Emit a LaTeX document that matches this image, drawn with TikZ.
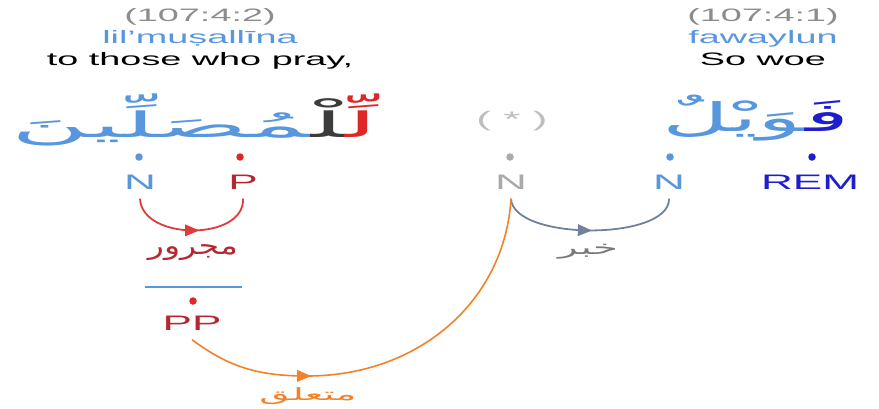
\documentclass[tikz,border=0pt]{standalone}
\usepackage{fontspec}
\usepackage{graphicx}
\setmainfont{Liberation Sans}
\newfontfamily\arabicfont[Script=Arabic]{DejaVu Sans}
\TeXXeTstate=1
\usetikzlibrary{arrows.meta,decorations.markings}
\definecolor{hdrgray}{RGB}{140,140,140}
\definecolor{lblue}{RGB}{88,150,222}
\definecolor{dblue}{RGB}{30,30,205}
\definecolor{dotred}{RGB}{222,40,40}
\definecolor{txtred}{RGB}{180,40,50}
\definecolor{arcred}{RGB}{222,60,60}
\definecolor{ngray}{RGB}{170,170,170}
\definecolor{stargray}{RGB}{190,190,190}
\definecolor{slate}{RGB}{110,130,158}
\definecolor{lblgray}{RGB}{120,120,120}
\definecolor{orangeC}{RGB}{242,130,40}
\definecolor{wordblack}{RGB}{60,60,60}
\begin{document}
\begin{tikzpicture}[x=1pt,y=-1pt,
  hdr/.style={font=\fontsize{18}{20}\selectfont, xscale=2.1, anchor=base, inner sep=0pt},
  posl/.style={font=\fontsize{21}{24}\selectfont, xscale=2.1, inner xsep=0pt, inner ysep=9pt, text height=15pt, text depth=0pt},
  dot/.style={circle, inner sep=0pt, minimum size=7.5pt},
  deparc/.style={line width=1.8pt, postaction={decorate},
    decoration={markings, mark=at position #1 with {\fill (-7pt,-6pt) -- (7pt,0pt) -- (-7pt,6pt) -- cycle;}}},
  arlbl/.style={inner sep=0pt}
]
\useasboundingbox (0,0) rectangle (879,408);

% headers
\node[hdr, text=hdrgray] (loc2) at (200,21) {(107:4:2)};
\node[hdr, text=lblue] (tr2) at (200,43) {lil'muṣallīna};
\node[hdr, text=black] (en2) at (200,65) {to those who pray,};
\node[hdr, text=hdrgray] (loc1) at (763,21) {(107:4:1)};
\node[hdr, text=lblue] (tr1) at (763,43) {fawaylun};
\node[hdr, text=black] (en1) at (763,65) {So woe};

% arabic words
\node[arlbl] (w2) at (195,120) {\resizebox*{366pt}{52pt}{\arabicfont{\color{lblue}^^^^200dمُصَلِّينَ}{\color{wordblack}^^^^200dلْ^^^^200d}{\color{dotred}لِّ^^^^200d}}};
\node[arlbl] (w1) at (756,118) {\resizebox*{187pt}{46pt}{\arabicfont{\color{lblue}^^^^200dوَيْلٌ}{\color{dblue}فَ^^^^200d}}};
\node[font=\fontsize{21}{24}\selectfont, xscale=2.1, text=stargray, inner sep=0pt] (star) at (512,121) {( * )};

% dots
\node[dot, fill=lblue] (d1) at (139,157) {};
\node[dot, fill=dotred] (d2) at (240,157) {};
\node[dot, fill=ngray] (d3) at (510,157) {};
\node[dot, fill=lblue] (d4) at (670,157) {};
\node[dot, fill=dblue] (d5) at (812,157) {};

% POS labels
\node[posl, text=lblue] (N1) at (140,182) {N};
\node[posl, text=txtred] (P1) at (243,182) {P};
\node[posl, text=ngray] (Ng) at (511,182) {N};
\node[posl, text=lblue] (N2) at (669,182) {N};
\node[posl, text=dblue] (REM) at (810,182) {REM};

% red arc N -> P
\draw[deparc=0.5, color=arcred] (N1.south) .. controls (142,241) and (245,241) .. (P1.south);
\node[arlbl, text=txtred] (lj) at (193,253) {\resizebox*{90pt}{16pt}{\arabicfont\beginR مجرور\endR}};

% slate arc Ng -> N2
\draw[deparc=0.47, color=slate] (Ng.south) .. controls (513,241) and (670,241) .. (N2.south);
\node[arlbl, text=lblgray] (lk) at (588,252) {\resizebox*{60pt}{15pt}{\arabicfont\beginR خبر\endR}};

% PP
\draw[draw=lblue, line width=1.2pt] (145,287) coordinate (hl) -- (242,287) coordinate (hr);
\node[dot, fill=dotred] (d6) at (193,301) {};
\node[posl, text=txtred] (PP) at (192,323) {PP};

% orange PP -> Ng
\coordinate (ob) at (307,376);
\draw[deparc=0.285, color=orangeC, line width=1.6pt] (PP.south) .. controls (230,368) and (260,376) .. (ob) .. controls (420,376) and (505,300) .. (Ng.south);
\node[arlbl, text=orangeC] (lm) at (308,396) {\resizebox*{97pt}{17pt}{\arabicfont\beginR متعلق\endR}};
\end{tikzpicture}
\end{document}
